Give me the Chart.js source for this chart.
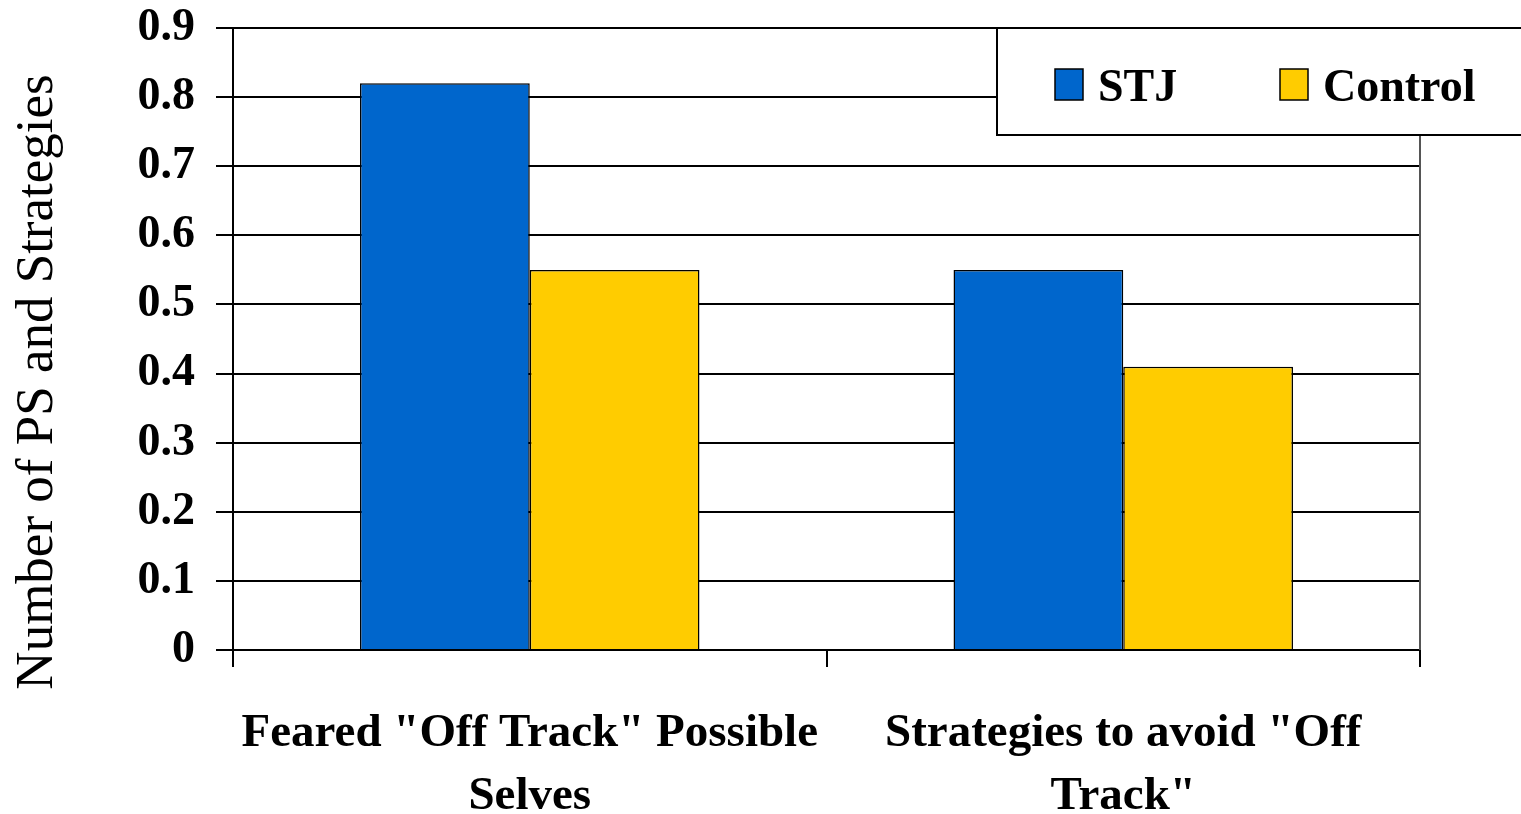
<!DOCTYPE html>
<html>
<head>
<meta charset="utf-8">
<script src="https://cdn.jsdelivr.net/npm/chart.js@4.4.1/dist/chart.umd.min.js"></script>
<style>
  html, body { margin: 0; padding: 0; background: #fff; }
  #wrap { width: 1521px; height: 814px; }
</style>
</head>
<body>
<div id="wrap"><canvas id="chartBar" width="1521" height="814"></canvas></div>
<script>
var categories = [
  ['Feared "Off Track" Possible', 'Selves'],
  ['Strategies to avoid "Off', 'Track"']
];
var seriesNames = ['STJ', 'Control'];
var stjValues = [0.82, 0.55];
var controlValues = [0.55, 0.41];
var yTicks = [0, 0.1, 0.2, 0.3, 0.4, 0.5, 0.6, 0.7, 0.8, 0.9];
var yTitle = 'Number of PS and Strategies';

var serif = '"Liberation Serif", "Times New Roman", serif';

// box legend drawn over the top right corner of the plot
var boxLegend = {
  id: 'boxLegend',
  afterDraw: function (chart) {
    var ctx = chart.ctx;
    ctx.save();
    ctx.fillStyle = '#fff';
    ctx.strokeStyle = '#000';
    ctx.lineWidth = 2;
    ctx.fillRect(997, 28, 560, 107);
    ctx.strokeRect(997, 28, 560, 107);

    var pos = [1055, 1280];
    ctx.font = 'bold 46px ' + serif;
    ctx.textBaseline = 'alphabetic';
    chart.data.datasets.forEach(function (ds, i) {
      ctx.fillStyle = ds.backgroundColor;
      ctx.fillRect(pos[i], 69, 28, 31);
      ctx.lineWidth = 1.5;
      ctx.strokeRect(pos[i], 69, 28, 31);
      ctx.fillStyle = '#000';
      ctx.fillText(ds.label, pos[i] + 43, 101);
    });
    ctx.restore();
  }
};

// right frame line of the plot area and the rotated y title
var frameAndTitle = {
  id: 'frameAndTitle',
  afterDatasetsDraw: function (chart) {
    var a = chart.chartArea;
    var ctx = chart.ctx;
    ctx.save();
    ctx.strokeStyle = '#555';
    ctx.lineWidth = 2;
    ctx.beginPath();
    ctx.moveTo(a.right, a.top);
    ctx.lineTo(a.right, a.bottom);
    ctx.stroke();

    ctx.translate(38, 382);
    ctx.rotate(-Math.PI / 2);
    ctx.fillStyle = '#000';
    ctx.font = '53px ' + serif;
    ctx.textAlign = 'center';
    ctx.textBaseline = 'middle';
    ctx.fillText(yTitle, 0, 0);
    ctx.restore();
  }
};

var chartBar = new Chart(document.getElementById('chartBar'), {
  type: 'bar',
  data: {
    labels: categories,
    datasets: [{
      label: seriesNames[0],
      data: stjValues,
      backgroundColor: '#0066CC',
      borderColor: '#000',
      borderWidth: 1.5
    }, {
      label: seriesNames[1],
      data: controlValues,
      backgroundColor: '#FFCC00',
      borderColor: '#000',
      borderWidth: 1.5
    }]
  },
  options: {
    responsive: false,
    animation: false,
    layout: { padding: { top: 28, right: 101, left: 0, bottom: 0 } },
    categoryPercentage: 0.572,
    barPercentage: 1,
    plugins: {
      legend: { display: false },
      tooltip: { enabled: false }
    },
    scales: {
      x: {
        afterFit: function (scale) {
          scale.height = 164;
          scale.paddingLeft = 0;
          scale.paddingRight = 0;
        },
        grid: {
          offset: true,
          drawOnChartArea: false,
          color: '#000',
          lineWidth: 2,
          tickLength: 17
        },
        border: { color: '#000', width: 2 },
        ticks: {
          color: '#000',
          padding: 35,
          maxRotation: 0,
          font: { family: serif, size: 47, weight: 'bold', lineHeight: 1.34 }
        }
      },
      y: {
        min: 0,
        max: 0.9,
        afterFit: function (scale) {
          scale.width = 233;
          scale.paddingTop = 0;
          scale.paddingBottom = 0;
        },
        afterBuildTicks: function (scale) {
          scale.ticks = yTicks.map(function (v) { return { value: v }; });
        },
        grid: {
          color: '#000',
          lineWidth: 2,
          tickLength: 17
        },
        border: { color: '#000', width: 2 },
        ticks: {
          color: '#000',
          padding: 21,
          font: { family: serif, size: 46, weight: 'bold' },
          callback: function (v) { return String(v); }
        }
      }
    }
  },
  plugins: [frameAndTitle, boxLegend]
});
</script>
</body>
</html>
